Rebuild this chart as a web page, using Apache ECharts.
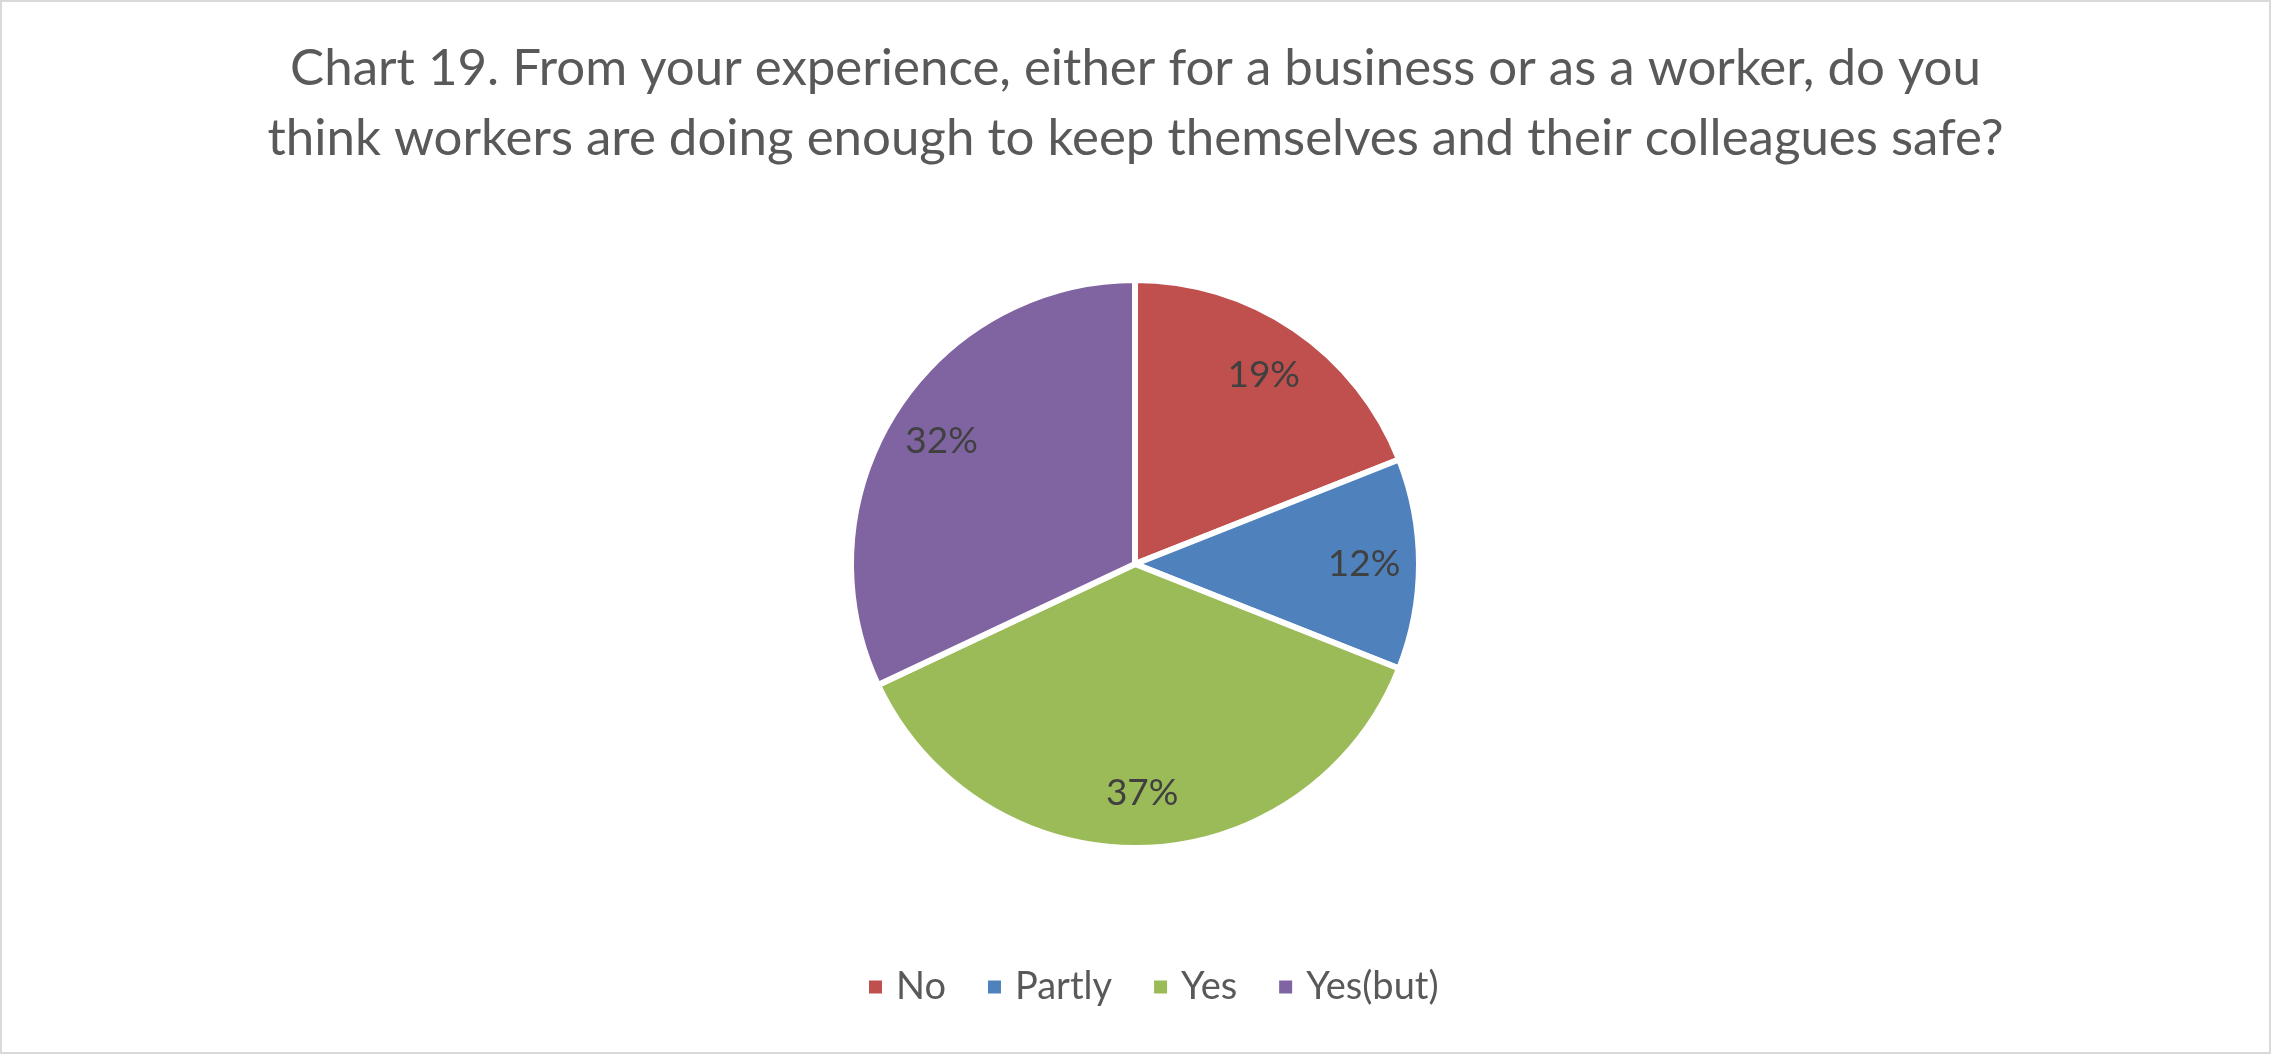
<!DOCTYPE html>
<html>
<head>
<meta charset="utf-8">
<script src="https://cdn.jsdelivr.net/npm/echarts@6/dist/echarts.min.js"></script>
<style>
  html, body { margin: 0; padding: 0; background: #fff; }
  #chart { width: 2271px; height: 1054px; box-sizing: border-box; border: 2px solid #d9d9d9; }
</style>
</head>
<body>
<div id="chart"></div>
<script>
var titleText = 'Chart 19. From your experience, either for a business or as a worker, do you\nthink workers are doing enough to keep themselves and their colleagues safe?'
var categories = ['No', 'Partly', 'Yes', 'Yes(but)']
var percents = [19, 12, 37, 32]
var colors = ['#C0504D', '#4F81BD', '#9BBB59', '#8064A2']

var font = 'Lato, "Open Sans", sans-serif'
var pieData = categories.map(function (name, i) {
  return { name: name, value: percents[i], itemStyle: { color: colors[i] } }
})

var chart = echarts.init(document.getElementById('chart'))
chart.setOption({
  animation: false,
  title: {
    text: titleText,
    left: 'center',
    top: 27,
    textStyle: {
      fontFamily: font,
      fontSize: 51,
      fontWeight: 'normal',
      color: '#595959',
      lineHeight: 70
    }
  },
  legend: {
    data: categories,
    bottom: 41,
    left: 860,
    icon: 'rect',
    itemWidth: 15,
    itemHeight: 15,
    itemGap: 40,
    textStyle: { fontFamily: font, fontSize: 38, color: '#595959', padding: [0, 0, 0, 8] }
  },
  series: [{
    type: 'pie',
    center: [1133, 562],
    radius: 284,
    startAngle: 90,
    clockwise: true,
    label: { show: false },
    labelLine: { show: false },
    itemStyle: { borderColor: '#fff', borderWidth: 6 },
    emphasis: { disabled: true },
    data: pieData
  }, {
    // transparent ring only used to place the % labels near the rim
    type: 'pie',
    center: [1133, 562],
    radius: [168, 284],
    startAngle: 90,
    clockwise: true,
    silent: true,
    itemStyle: { color: 'transparent', borderWidth: 0 },
    label: {
      show: true,
      position: 'inside',
      formatter: '{c}%',
      fontFamily: font,
      fontSize: 37,
      color: '#404040'
    },
    labelLine: { show: false },
    emphasis: { disabled: true },
    data: categories.map(function (name, i) { return { name: name, value: percents[i] } })
  }]
})
</script>
</body>
</html>
